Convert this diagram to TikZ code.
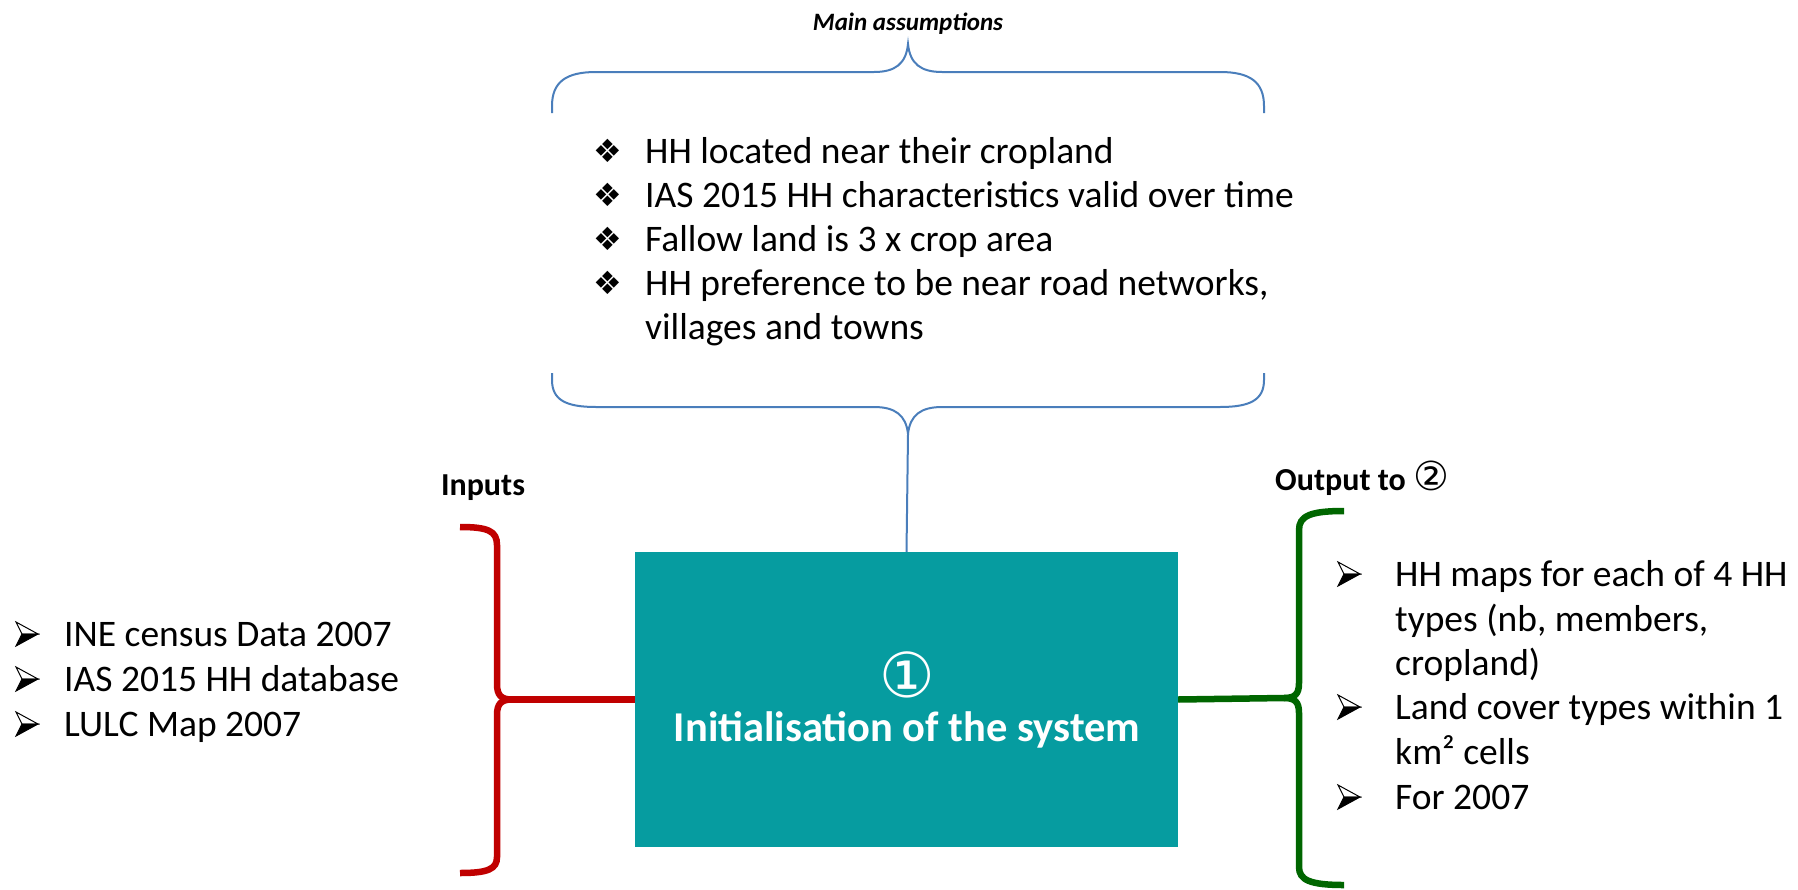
\documentclass[tikz,border=0pt]{standalone}
\usepackage{fontspec}
\setmainfont{Carlito}
\newfontfamily\dv{DejaVu Sans}
\definecolor{teal1}{RGB}{6,156,160}
\definecolor{braceblue}{RGB}{74,126,187}
\definecolor{bracered}{RGB}{192,0,0}
\definecolor{bracegreen}{RGB}{0,102,0}
\tikzset{
  txt/.style={anchor=base west, inner sep=0pt, font=\fontsize{37.5}{45}\selectfont},
  bul/.style={anchor=center, inner sep=0pt, font=\dv\fontsize{32}{36}\selectfont},
  head/.style={anchor=base, inner sep=0pt, font=\bfseries\fontsize{32}{38}\selectfont},
  bluebrace/.style={draw=braceblue, line width=2pt},
  redbrace/.style={draw=bracered, line width=6.5pt},
  greenbrace/.style={draw=bracegreen, line width=6.5pt},
  mainbox/.style={fill=teal1, draw=none, minimum width=543pt, minimum height=295pt, inner sep=0pt},
  arrbul/.pic={
    \filldraw[fill=white, draw=black, line width=1pt, line join=miter] (11,0) -- (-11,-12) -- (-5,0) -- cycle;
    \filldraw[fill=black, draw=black, line width=1pt, line join=miter] (11,0) -- (-5,0) -- (-11,12) -- cycle;
  }
}
\begin{document}
\begin{tikzpicture}[x=1pt,y=-1pt]
\useasboundingbox (0,0) rectangle (1798,889);

% title
\node[inner sep=0pt, anchor=base, font=\bfseries\itshape\fontsize{25}{30}\selectfont] (mainass) at (908,30) {Main assumptions};

% top brace
\coordinate (tipT) at (908,44);
\draw[bluebrace] (552,113) -- (552,106) .. controls (552,82) and (566,72) .. (596,72) -- (874,72)
  .. controls (895,72) and (906,64) .. (tipT) .. controls (910,64) and (921,72) .. (942,72)
  -- (1220,72) .. controls (1250,72) and (1264,82) .. (1264,106) -- (1264,113);

% assumptions
\foreach \i/\y in {1/163,2/207,3/251,4/295} {
  \node[bul] (d\i) at (608,\y-12) {❖};
}
\node[txt] (a1) at (645,163) {HH located near their cropland};
\node[txt] (a2) at (645,207) {IAS 2015 HH characteristics valid over time};
\node[txt] (a3) at (645,251) {Fallow land is 3 x crop area};
\node[txt] (a4) at (645,295) {HH preference to be near road networks,};
\node[txt] (a5) at (645,339) {villages and towns};

% bottom brace
\coordinate (tipB) at (908,434);
\draw[bluebrace] (552,373) -- (552,380) .. controls (552,400) and (566,407) .. (596,407) -- (874,407)
  .. controls (895,407) and (906,415) .. (tipB) .. controls (910,415) and (921,407) .. (942,407)
  -- (1220,407) .. controls (1250,407) and (1264,400) .. (1264,380) -- (1264,373);

% main box
\node[mainbox] (init) at (906.5,699.5) {};
\node[inner sep=0pt, text=white, font=\dv\fontsize{62}{66}\selectfont] (num1) at (907,675) {①};
\node[inner sep=0pt, anchor=base, text=white, font=\bfseries\fontsize{42.5}{50}\selectfont] (ttl) at (907,741) {Initialisation of the system};

\draw[bluebrace] (tipB) -- (init.north);

% inputs
\node[head] (inputs) at (483,495) {Inputs};
\coordinate (tipR) at (512,699.5);
\draw[redbrace] (460,527) .. controls (488,527) and (497,531) .. (497,545) -- (497,684)
  .. controls (497,695) and (501,699.5) .. (tipR);
\draw[redbrace] (tipR) .. controls (501,699.5) and (497,704) .. (497,715) -- (497,857)
  .. controls (497,869) and (488,873) .. (460,873);
\draw[redbrace] (init.west) -- (tipR);

\pic at (27,634) {arrbul};
\pic at (27,679) {arrbul};
\pic at (27,724) {arrbul};
\node[txt] (l1) at (64,646) {INE census Data 2007};
\node[txt] (l2) at (64,691) {IAS 2015 HH database};
\node[txt] (l3) at (64,736) {LULC Map 2007};

% outputs
\node[inner sep=0pt, anchor=base west, font=\bfseries\fontsize{32}{38}\selectfont] (outputs) at (1275,490) {Output to {\dv\mdseries\fontsize{40}{44}\selectfont ②}};
\coordinate (tipG) at (1284,698);
\draw[greenbrace] (1344,511) .. controls (1310,511) and (1299,516) .. (1299,530) -- (1299,683)
  .. controls (1299,694) and (1295,698) .. (tipG);
\draw[greenbrace] (tipG) .. controls (1295,698) and (1299,702) .. (1299,713) -- (1299,867)
  .. controls (1299,880) and (1310,885) .. (1344,885);
\draw[greenbrace] (init.east) -- (tipG);

\pic at (1349,574) {arrbul};
\pic at (1349,707) {arrbul};
\pic at (1349,797) {arrbul};
\node[txt] (r1) at (1395,586) {HH maps for each of 4 HH};
\node[txt] (r1x) at (1395,631) {types (nb, members,};
\node[txt] (r1y) at (1395,675) {cropland)};
\node[txt] (r2) at (1395,719) {Land cover types within 1};
\node[txt] (r2x) at (1395,764) {km² cells};
\node[txt] (r3) at (1395,809) {For 2007};
\end{tikzpicture}
\end{document}
